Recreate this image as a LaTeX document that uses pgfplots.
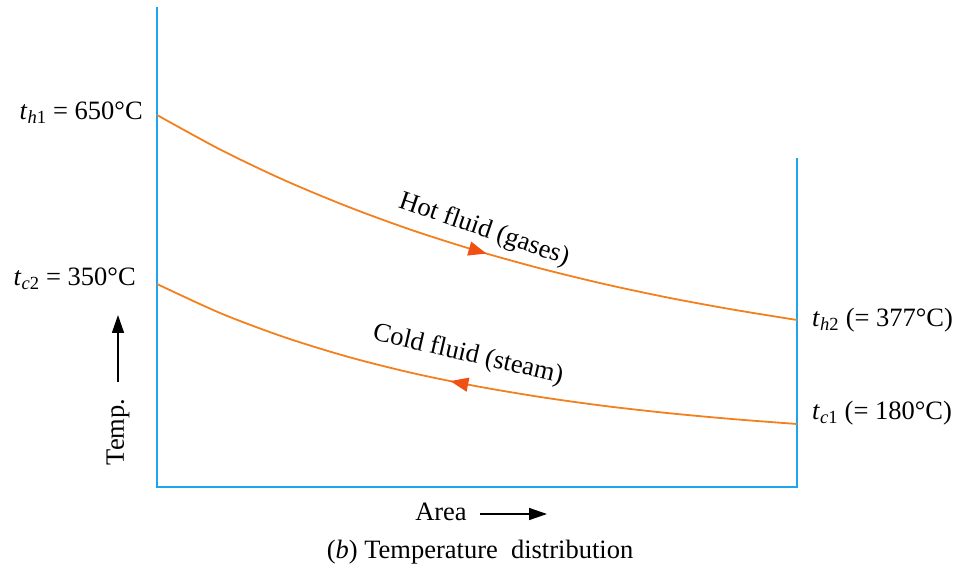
\documentclass[border=0pt]{standalone}
\usepackage{pgfplots}
\pgfplotsset{compat=1.18}
\usepackage{fontspec}
\setmainfont{Liberation Serif}
\usetikzlibrary{arrows.meta,decorations.markings}
\definecolor{frameblue}{RGB}{30,165,235}
\definecolor{curveorange}{RGB}{242,128,30}
\definecolor{headorange}{RGB}{240,80,20}
\tikzset{lbl/.style={inner sep=0pt, font=\fontsize{26.5}{30}\selectfont}}
\begin{document}
\begin{tikzpicture}
\begin{axis}[
  scale only axis, width=640pt, height=480pt,
  xmin=0, xmax=640, ymin=0, ymax=480,
  hide axis, clip=false,
]
% frame (axis lines)
\addplot[frameblue, line width=2.6pt, line join=miter] coordinates {(0,480) (0,0) (640,0) (640,329)};
% hot fluid
\addplot[curveorange, line width=1.8pt, smooth,
  postaction={decorate},
  decoration={markings, mark=at position 0.53 with {\arrow[headorange]{Triangle[length=18pt,width=14pt]}}}]
  coordinates {(0,372) (64,337.05) (128,306.5) (192,279.9) (256,256.5) (320,236.2) (384,218.4) (448,202.8) (512,189.2) (576,177.4) (640,167)};
% cold fluid
\addplot[curveorange, line width=1.8pt, smooth,
  postaction={decorate},
  decoration={markings, mark=at position 0.47 with {\arrowreversed[headorange]{Triangle[length=18pt,width=14pt]}}}]
  coordinates {(0,203) (64,173.6) (128,149.6) (192,129.9) (256,113.8) (320,100.7) (384,89.9) (448,81) (512,73.8) (576,67.9) (640,63)};
% labels
\node[lbl, anchor=east] at (axis cs:-14,374) {\textit{t}\textsubscript{\textit{h}1} = 650°C};
\node[lbl, anchor=east] at (axis cs:-21,208) {\textit{t}\textsubscript{\textit{c}2} = 350°C};
\node[lbl, anchor=west] at (axis cs:655,167) {\textit{t}\textsubscript{\textit{h}2} (= 377°C)};
\node[lbl, anchor=west] at (axis cs:655,74) {\textit{t}\textsubscript{\textit{c}1} (= 180°C)};
\node[lbl, rotate=-19] at (axis cs:327,257) {Hot fluid (gases)};
\node[lbl, rotate=-13] at (axis cs:311,132) {Cold fluid (steam)};
\node[lbl, rotate=90] at (axis cs:-39,55) {Temp.};
\draw[black, line width=1.6pt, -{Triangle[length=18pt,width=12pt]}] (axis cs:-39,105) -- (axis cs:-39,172);
\node[lbl] at (axis cs:284,-25) {Area};
\draw[black, line width=1.6pt, -{Triangle[length=18pt,width=12pt]}] (axis cs:323,-27) -- (axis cs:390,-27);
\node[lbl] at (axis cs:323,-65) {(\textit{b}) Temperature\ \ distribution};
\coordinate (O) at (axis cs:0,0);
\end{axis}
\pgfresetboundingbox
\path[use as bounding box] (O) ++(-157pt,-88pt) rectangle ++(963pt,575pt);
\end{tikzpicture}
\end{document}
